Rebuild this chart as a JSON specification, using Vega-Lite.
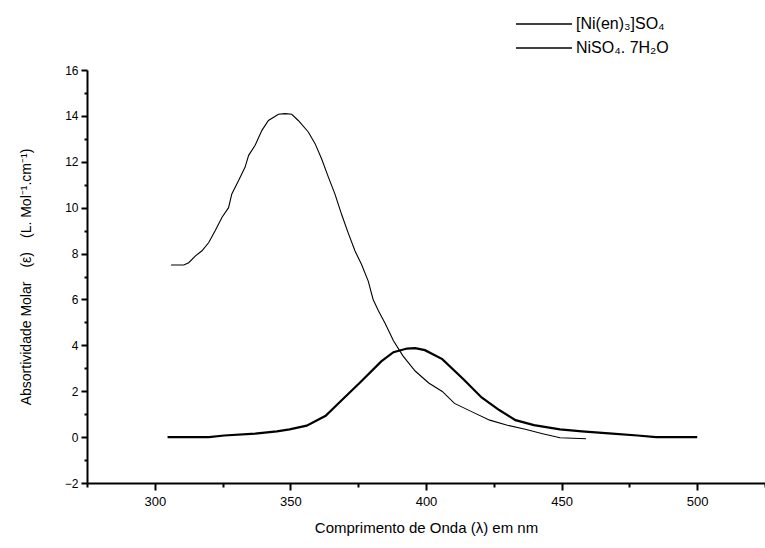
{
  "$schema": "https://vega.github.io/schema/vega-lite/v6.json",
  "width": 678,
  "height": 413,
  "autosize": {"type": "none"},
  "padding": {"left": 87, "top": 70, "right": 0, "bottom": 65},
  "background": "white",
  "config": {
    "view": {"stroke": null},
    "font": "Liberation Sans, Arial, sans-serif"
  },
  "data": {
    "values": [
      {"series": "[Ni(en)₃]SO₄", "wavelength": 306, "absorptivity": 7.5},
      {"series": "[Ni(en)₃]SO₄", "wavelength": 310.7, "absorptivity": 7.5},
      {"series": "[Ni(en)₃]SO₄", "wavelength": 312.5, "absorptivity": 7.6},
      {"series": "[Ni(en)₃]SO₄", "wavelength": 315, "absorptivity": 7.9},
      {"series": "[Ni(en)₃]SO₄", "wavelength": 317.4, "absorptivity": 8.12},
      {"series": "[Ni(en)₃]SO₄", "wavelength": 319.9, "absorptivity": 8.48},
      {"series": "[Ni(en)₃]SO₄", "wavelength": 322.3, "absorptivity": 9.0},
      {"series": "[Ni(en)₃]SO₄", "wavelength": 324.8, "absorptivity": 9.58},
      {"series": "[Ni(en)₃]SO₄", "wavelength": 327.2, "absorptivity": 10.0},
      {"series": "[Ni(en)₃]SO₄", "wavelength": 328.4, "absorptivity": 10.6},
      {"series": "[Ni(en)₃]SO₄", "wavelength": 330.9, "absorptivity": 11.18},
      {"series": "[Ni(en)₃]SO₄", "wavelength": 333.3, "absorptivity": 11.77},
      {"series": "[Ni(en)₃]SO₄", "wavelength": 334.6, "absorptivity": 12.28},
      {"series": "[Ni(en)₃]SO₄", "wavelength": 337, "absorptivity": 12.72},
      {"series": "[Ni(en)₃]SO₄", "wavelength": 339.5, "absorptivity": 13.37},
      {"series": "[Ni(en)₃]SO₄", "wavelength": 341.9, "absorptivity": 13.8},
      {"series": "[Ni(en)₃]SO₄", "wavelength": 345.6, "absorptivity": 14.07},
      {"series": "[Ni(en)₃]SO₄", "wavelength": 348, "absorptivity": 14.1},
      {"series": "[Ni(en)₃]SO₄", "wavelength": 350.5, "absorptivity": 14.07},
      {"series": "[Ni(en)₃]SO₄", "wavelength": 352.9, "absorptivity": 13.8},
      {"series": "[Ni(en)₃]SO₄", "wavelength": 356.6, "absorptivity": 13.3},
      {"series": "[Ni(en)₃]SO₄", "wavelength": 359.1, "absorptivity": 12.79},
      {"series": "[Ni(en)₃]SO₄", "wavelength": 361.5, "absorptivity": 12.13},
      {"series": "[Ni(en)₃]SO₄", "wavelength": 364, "absorptivity": 11.33},
      {"series": "[Ni(en)₃]SO₄", "wavelength": 366.4, "absorptivity": 10.6},
      {"series": "[Ni(en)₃]SO₄", "wavelength": 368.9, "absorptivity": 9.7},
      {"series": "[Ni(en)₃]SO₄", "wavelength": 371.3, "absorptivity": 8.9},
      {"series": "[Ni(en)₃]SO₄", "wavelength": 373.8, "absorptivity": 8.12},
      {"series": "[Ni(en)₃]SO₄", "wavelength": 376.2, "absorptivity": 7.53},
      {"series": "[Ni(en)₃]SO₄", "wavelength": 378.7, "absorptivity": 6.8},
      {"series": "[Ni(en)₃]SO₄", "wavelength": 380.5, "absorptivity": 6.0},
      {"series": "[Ni(en)₃]SO₄", "wavelength": 382.5, "absorptivity": 5.5},
      {"series": "[Ni(en)₃]SO₄", "wavelength": 385, "absorptivity": 4.94},
      {"series": "[Ni(en)₃]SO₄", "wavelength": 388, "absorptivity": 4.2},
      {"series": "[Ni(en)₃]SO₄", "wavelength": 391.5, "absorptivity": 3.54},
      {"series": "[Ni(en)₃]SO₄", "wavelength": 396, "absorptivity": 2.88},
      {"series": "[Ni(en)₃]SO₄", "wavelength": 401, "absorptivity": 2.36},
      {"series": "[Ni(en)₃]SO₄", "wavelength": 406, "absorptivity": 1.99},
      {"series": "[Ni(en)₃]SO₄", "wavelength": 410.5, "absorptivity": 1.47},
      {"series": "[Ni(en)₃]SO₄", "wavelength": 417, "absorptivity": 1.1},
      {"series": "[Ni(en)₃]SO₄", "wavelength": 423.5, "absorptivity": 0.74},
      {"series": "[Ni(en)₃]SO₄", "wavelength": 430, "absorptivity": 0.52},
      {"series": "[Ni(en)₃]SO₄", "wavelength": 436.6, "absorptivity": 0.34},
      {"series": "[Ni(en)₃]SO₄", "wavelength": 443, "absorptivity": 0.15},
      {"series": "[Ni(en)₃]SO₄", "wavelength": 449.4, "absorptivity": -0.03},
      {"series": "[Ni(en)₃]SO₄", "wavelength": 459, "absorptivity": -0.07},
      {"series": "NiSO₄. 7H₂O", "wavelength": 304.7, "absorptivity": 0},
      {"series": "NiSO₄. 7H₂O", "wavelength": 320, "absorptivity": 0},
      {"series": "NiSO₄. 7H₂O", "wavelength": 325.6, "absorptivity": 0.07},
      {"series": "NiSO₄. 7H₂O", "wavelength": 337, "absorptivity": 0.15},
      {"series": "NiSO₄. 7H₂O", "wavelength": 345, "absorptivity": 0.25},
      {"series": "NiSO₄. 7H₂O", "wavelength": 349.7, "absorptivity": 0.34},
      {"series": "NiSO₄. 7H₂O", "wavelength": 356, "absorptivity": 0.5},
      {"series": "NiSO₄. 7H₂O", "wavelength": 363, "absorptivity": 0.93},
      {"series": "NiSO₄. 7H₂O", "wavelength": 369, "absorptivity": 1.62},
      {"series": "NiSO₄. 7H₂O", "wavelength": 375.5, "absorptivity": 2.36},
      {"series": "NiSO₄. 7H₂O", "wavelength": 383.5, "absorptivity": 3.3},
      {"series": "NiSO₄. 7H₂O", "wavelength": 388, "absorptivity": 3.7},
      {"series": "NiSO₄. 7H₂O", "wavelength": 393, "absorptivity": 3.86},
      {"series": "NiSO₄. 7H₂O", "wavelength": 396, "absorptivity": 3.88},
      {"series": "NiSO₄. 7H₂O", "wavelength": 399.6, "absorptivity": 3.79},
      {"series": "NiSO₄. 7H₂O", "wavelength": 406, "absorptivity": 3.4},
      {"series": "NiSO₄. 7H₂O", "wavelength": 414, "absorptivity": 2.5},
      {"series": "NiSO₄. 7H₂O", "wavelength": 420.5, "absorptivity": 1.73},
      {"series": "NiSO₄. 7H₂O", "wavelength": 427, "absorptivity": 1.18},
      {"series": "NiSO₄. 7H₂O", "wavelength": 433, "absorptivity": 0.74},
      {"series": "NiSO₄. 7H₂O", "wavelength": 439.8, "absorptivity": 0.52},
      {"series": "NiSO₄. 7H₂O", "wavelength": 449.4, "absorptivity": 0.34},
      {"series": "NiSO₄. 7H₂O", "wavelength": 457.5, "absorptivity": 0.25},
      {"series": "NiSO₄. 7H₂O", "wavelength": 468.7, "absorptivity": 0.15},
      {"series": "NiSO₄. 7H₂O", "wavelength": 478, "absorptivity": 0.07},
      {"series": "NiSO₄. 7H₂O", "wavelength": 484.8, "absorptivity": 0},
      {"series": "NiSO₄. 7H₂O", "wavelength": 500, "absorptivity": 0}
    ]
  },
  "encoding": {
    "x": {
      "field": "wavelength",
      "type": "quantitative",
      "scale": {"domain": [275, 525], "nice": false, "zero": false},
      "axis": {
        "values": [275, 300, 325, 350, 375, 400, 425, 450, 475, 500, 525],
        "labelExpr": "datum.value % 50 === 0 ? datum.label : ''",
        "labelOverlap": false,
        "tickSize": {"condition": {"test": "datum.value % 50 === 0", "value": 7}, "value": 4},
        "grid": false,
        "domainColor": "black",
        "domainWidth": 2,
        "tickColor": "black",
        "tickWidth": 2,
        "labelColor": "black",
        "labelFontSize": 13,
        "labelPadding": 5,
        "title": "Comprimento de Onda (λ) em nm",
        "titleColor": "black",
        "titleFontSize": 15,
        "titleFontWeight": "normal",
        "titlePadding": 12
      }
    },
    "y": {
      "field": "absorptivity",
      "type": "quantitative",
      "scale": {"domain": [-2, 16], "nice": false, "zero": false},
      "axis": {
        "values": [-2, -1, 0, 1, 2, 3, 4, 5, 6, 7, 8, 9, 10, 11, 12, 13, 14, 15, 16],
        "labelExpr": "datum.value % 2 === 0 ? datum.label : ''",
        "labelOverlap": false,
        "tickSize": {"condition": {"test": "datum.value % 2 === 0", "value": 6}, "value": 3},
        "grid": false,
        "domainColor": "black",
        "domainWidth": 2,
        "tickColor": "black",
        "tickWidth": 2,
        "labelColor": "black",
        "labelFontSize": 12,
        "labelPadding": 3,
        "title": "Absortividade Molar\u2003(ε)\u2003(L. Mol⁻¹.cm⁻¹)",
        "titleColor": "black",
        "titleFontSize": 14,
        "titleFontWeight": "normal",
        "titlePadding": 31
      }
    },
    "color": {
      "field": "series",
      "type": "nominal",
      "scale": {"domain": ["[Ni(en)₃]SO₄", "NiSO₄. 7H₂O"], "range": ["black", "black"]},
      "legend": {
        "orient": "none",
        "legendX": 442,
        "legendY": -61,
        "title": null,
        "symbolType": "M-2,0H2",
        "symbolSize": 784,
        "symbolStrokeWidth": 1.3,
        "symbolFillColor": "transparent",
        "labelFontSize": 16,
        "labelColor": "black",
        "labelOffset": 17,
        "rowPadding": 1
      }
    }
  },
  "layer": [
    {
      "transform": [{"filter": "datum.series === '[Ni(en)₃]SO₄'"}],
      "mark": {"type": "line", "clip": true, "strokeWidth": 1.1}
    },
    {
      "transform": [{"filter": "datum.series === 'NiSO₄. 7H₂O'"}],
      "mark": {"type": "line", "clip": true, "strokeWidth": 2.2}
    }
  ]
}
